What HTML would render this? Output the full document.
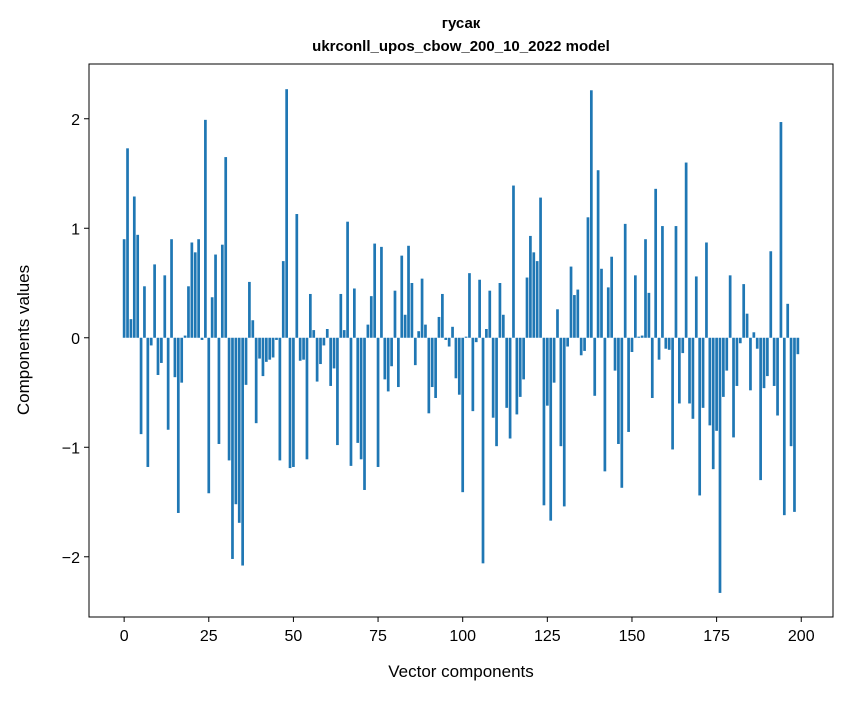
<!DOCTYPE html>
<html><head><meta charset="utf-8"><style>
body{margin:0;background:#fff;}
svg text{font-family:"Liberation Sans","DejaVu Sans",sans-serif;fill:#000;}
</style></head><body>
<svg id="chart" width="847" height="696" xmlns="http://www.w3.org/2000/svg">
<rect width="847" height="696" fill="#fff"/>
<text x="461" y="28" text-anchor="middle" font-size="15" font-weight="bold">гусак</text>
<text x="461" y="51" text-anchor="middle" font-size="15" font-weight="bold">ukrconll_upos_cbow_200_10_2022 model</text>
<g id="bars"></g>
<g id="xticks"></g>
<g id="yticks"></g>
<rect x="89" y="64" width="744" height="553" fill="none" stroke="#000" stroke-width="1"/>
<text x="461" y="677" text-anchor="middle" font-size="17">Vector components</text>
<text transform="translate(29,340) rotate(-90)" text-anchor="middle" font-size="17">Components values</text>
</svg>
<script>
const values = [0.90,1.73,0.17,1.29,0.94,-0.88,0.47,-1.18,-0.07,0.67,-0.34,-0.23,0.57,-0.84,0.90,-0.36,-1.60,-0.41,0.02,0.47,
0.87,0.78,0.90,-0.02,1.99,-1.42,0.37,0.76,-0.97,0.85,1.65,-1.12,-2.02,-1.52,-1.69,-2.08,-0.43,0.51,0.16,-0.78,
-0.19,-0.35,-0.22,-0.20,-0.18,-0.02,-1.12,0.70,2.27,-1.19,-1.18,1.13,-0.21,-0.20,-1.11,0.40,0.07,-0.40,-0.24,-0.07,
0.08,-0.44,-0.28,-0.98,0.40,0.07,1.06,-1.17,0.45,-0.96,-1.11,-1.39,0.12,0.38,0.86,-1.18,0.83,-0.38,-0.49,-0.26,
0.43,-0.45,0.75,0.21,0.84,0.50,-0.25,0.06,0.54,0.12,-0.69,-0.45,-0.55,0.19,0.40,-0.02,-0.08,0.10,-0.37,-0.52,
-1.41,0.01,0.59,-0.67,-0.04,0.53,-2.06,0.08,0.43,-0.73,-0.99,0.50,0.21,-0.64,-0.92,1.39,-0.70,-0.54,-0.38,0.55,
0.93,0.78,0.70,1.28,-1.53,-0.62,-1.67,-0.41,0.26,-0.99,-1.54,-0.08,0.65,0.39,0.44,-0.16,-0.12,1.10,2.26,-0.53,
1.53,0.63,-1.22,0.46,0.74,-0.30,-0.97,-1.37,1.04,-0.86,-0.13,0.57,0.01,0.02,0.90,0.41,-0.55,1.36,-0.20,1.02,
-0.10,-0.11,-1.02,1.02,-0.60,-0.14,1.60,-0.60,-0.74,0.56,-1.44,-0.64,0.87,-0.80,-1.20,-0.85,-2.33,-0.54,-0.30,0.57,
-0.91,-0.44,-0.05,0.49,0.22,-0.48,0.05,-0.10,-1.30,-0.46,-0.35,0.79,-0.44,-0.71,1.97,-1.62,0.31,-0.99,-1.59,-0.15];
const xTickValues = [0,25,50,75,100,125,150,175,200];
const yTickValues = [-2,-1,0,1,2];
const yTickLabels = ["\u22122","\u22121","0","1","2"];

const L=89,R=833,T=64,B=617;
const xMin=-10.38,xMax=209.38,yMin=-2.55,yMax=2.50;
const sx=v=>L+(v-xMin)/(xMax-xMin)*(R-L);
const sy=v=>B-(v-yMin)/(yMax-yMin)*(B-T);
const NS="http://www.w3.org/2000/svg";
const gb=document.getElementById('bars');
values.forEach((v,i)=>{
  const r=document.createElementNS(NS,'rect');
  const x0=sx(i-0.4),x1=sx(i+0.4);
  const y0=sy(Math.max(v,0)),y1=sy(Math.min(v,0));
  r.setAttribute('x',x0);r.setAttribute('width',x1-x0);
  r.setAttribute('y',y0);r.setAttribute('height',Math.max(y1-y0,0.3));
  r.setAttribute('fill','#1f77b4');
  
  
  gb.appendChild(r);
});
const gx=document.getElementById('xticks');
xTickValues.forEach(t=>{
  const x=sx(t);
  const l=document.createElementNS(NS,'line');
  l.setAttribute('x1',x);l.setAttribute('x2',x);l.setAttribute('y1',B);l.setAttribute('y2',B+5);
  l.setAttribute('stroke','#000');
  
  
  gx.appendChild(l);
  const tx=document.createElementNS(NS,'text');
  tx.setAttribute('x',x);tx.setAttribute('y',B+24);tx.setAttribute('text-anchor','middle');tx.setAttribute('font-size','16');
  tx.textContent=String(t);
  
  
  gx.appendChild(tx);
});
const gy=document.getElementById('yticks');
yTickValues.forEach((t,i)=>{
  const y=sy(t);
  const l=document.createElementNS(NS,'line');
  l.setAttribute('x1',L-5);l.setAttribute('x2',L);l.setAttribute('y1',y);l.setAttribute('y2',y);
  l.setAttribute('stroke','#000');
  
  
  gy.appendChild(l);
  const tx=document.createElementNS(NS,'text');
  tx.setAttribute('x',L-9);tx.setAttribute('y',y+6);tx.setAttribute('text-anchor','end');tx.setAttribute('font-size','16');
  tx.textContent=yTickLabels[i];
  
  
  gy.appendChild(tx);
});
</script>
</body></html>
